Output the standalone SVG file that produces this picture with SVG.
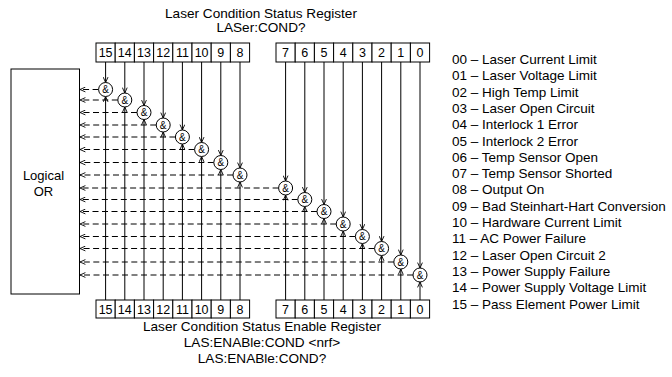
<svg xmlns="http://www.w3.org/2000/svg" width="672" height="377" viewBox="0 0 672 377">
<style>
text{font-family:"Liberation Sans",Arial,sans-serif;fill:#000}
.t{font-size:13.6px;text-anchor:middle}
.o{font-size:13px;text-anchor:middle}
.n{font-size:12.5px;text-anchor:middle}
.lg{font-size:13.5px}
.amp{font-size:10px;text-anchor:middle}
.cell{fill:#fff;stroke:#000;stroke-width:1}
.g{fill:#fff;stroke:#000;stroke-width:1}
.s{stroke:#000;stroke-width:1;fill:none;marker-end:url(#ah)}
.d{stroke:#000;stroke-width:1;fill:none;stroke-dasharray:6 3.5;marker-end:url(#ah)}
</style>
<defs>
<marker id="ah" viewBox="0 0 10 10" refX="10" refY="5" markerWidth="6" markerHeight="6" markerUnits="userSpaceOnUse" orient="auto">
<path d="M1,1 L10,5 L1,9" fill="none" stroke="#000" stroke-width="1.5"/>
</marker>
</defs>
<rect width="672" height="377" fill="#fff"/>

<g id="title-top">
<text class="t" x="261" y="18">Laser Condition Status Register</text>
<text class="t" x="261" y="32">LASer:COND?</text>
</g>

<g id="reg-top">
<rect class="cell" x="96" y="43" width="19.2" height="19"/>
<rect class="cell" x="115.2" y="43" width="19.2" height="19"/>
<rect class="cell" x="134.4" y="43" width="19.2" height="19"/>
<rect class="cell" x="153.6" y="43" width="19.2" height="19"/>
<rect class="cell" x="172.8" y="43" width="19.2" height="19"/>
<rect class="cell" x="192" y="43" width="19.2" height="19"/>
<rect class="cell" x="211.2" y="43" width="19.2" height="19"/>
<rect class="cell" x="230.4" y="43" width="19.2" height="19"/>
<rect class="cell" x="276" y="43" width="19.2" height="19"/>
<rect class="cell" x="295.2" y="43" width="19.2" height="19"/>
<rect class="cell" x="314.4" y="43" width="19.2" height="19"/>
<rect class="cell" x="333.6" y="43" width="19.2" height="19"/>
<rect class="cell" x="352.8" y="43" width="19.2" height="19"/>
<rect class="cell" x="372" y="43" width="19.2" height="19"/>
<rect class="cell" x="391.2" y="43" width="19.2" height="19"/>
<rect class="cell" x="410.4" y="43" width="19.2" height="19"/>
<text class="n" x="105.6" y="57">15</text>
<text class="n" x="124.8" y="57">14</text>
<text class="n" x="144" y="57">13</text>
<text class="n" x="163.2" y="57">12</text>
<text class="n" x="182.4" y="57">11</text>
<text class="n" x="201.6" y="57">10</text>
<text class="n" x="220.8" y="57">9</text>
<text class="n" x="240" y="57">8</text>
<text class="n" x="285.6" y="57">7</text>
<text class="n" x="304.8" y="57">6</text>
<text class="n" x="324" y="57">5</text>
<text class="n" x="343.2" y="57">4</text>
<text class="n" x="362.4" y="57">3</text>
<text class="n" x="381.6" y="57">2</text>
<text class="n" x="400.8" y="57">1</text>
<text class="n" x="420" y="57">0</text>
</g>

<g id="reg-bottom">
<rect class="cell" x="96" y="300" width="19.2" height="18"/>
<rect class="cell" x="115.2" y="300" width="19.2" height="18"/>
<rect class="cell" x="134.4" y="300" width="19.2" height="18"/>
<rect class="cell" x="153.6" y="300" width="19.2" height="18"/>
<rect class="cell" x="172.8" y="300" width="19.2" height="18"/>
<rect class="cell" x="192" y="300" width="19.2" height="18"/>
<rect class="cell" x="211.2" y="300" width="19.2" height="18"/>
<rect class="cell" x="230.4" y="300" width="19.2" height="18"/>
<rect class="cell" x="276" y="300" width="19.2" height="18"/>
<rect class="cell" x="295.2" y="300" width="19.2" height="18"/>
<rect class="cell" x="314.4" y="300" width="19.2" height="18"/>
<rect class="cell" x="333.6" y="300" width="19.2" height="18"/>
<rect class="cell" x="352.8" y="300" width="19.2" height="18"/>
<rect class="cell" x="372" y="300" width="19.2" height="18"/>
<rect class="cell" x="391.2" y="300" width="19.2" height="18"/>
<rect class="cell" x="410.4" y="300" width="19.2" height="18"/>
<text class="n" x="105.6" y="313.5">15</text>
<text class="n" x="124.8" y="313.5">14</text>
<text class="n" x="144" y="313.5">13</text>
<text class="n" x="163.2" y="313.5">12</text>
<text class="n" x="182.4" y="313.5">11</text>
<text class="n" x="201.6" y="313.5">10</text>
<text class="n" x="220.8" y="313.5">9</text>
<text class="n" x="240" y="313.5">8</text>
<text class="n" x="285.6" y="313.5">7</text>
<text class="n" x="304.8" y="313.5">6</text>
<text class="n" x="324" y="313.5">5</text>
<text class="n" x="343.2" y="313.5">4</text>
<text class="n" x="362.4" y="313.5">3</text>
<text class="n" x="381.6" y="313.5">2</text>
<text class="n" x="400.8" y="313.5">1</text>
<text class="n" x="420" y="313.5">0</text>
</g>

<g id="title-bottom">
<text class="t" x="262" y="331">Laser Condition Status Enable Register</text>
<text class="t" x="262" y="347">LAS:ENABle:COND &lt;nrf&gt;</text>
<text class="t" x="262" y="363">LAS:ENABle:COND?</text>
</g>

<g id="logical-or">
<rect x="11" y="69" width="68.5" height="225" fill="#fff" stroke="#000" stroke-width="1"/>
<text class="o" x="43.5" y="180">Logical</text>
<text class="o" x="43.5" y="196">OR</text>
</g>

<g id="connectors">
<line class="s" x1="105.6" y1="62" x2="105.6" y2="82.5"/><line class="s" x1="105.6" y1="300" x2="105.6" y2="96.5"/><line class="d" x1="98.6" y1="89.5" x2="80" y2="89.5"/>
<line class="s" x1="124.8" y1="62" x2="124.8" y2="93"/><line class="s" x1="124.8" y1="300" x2="124.8" y2="107"/><line class="d" x1="117.8" y1="100" x2="80" y2="100"/>
<line class="s" x1="144" y1="62" x2="144" y2="105.5"/><line class="s" x1="144" y1="300" x2="144" y2="119.5"/><line class="d" x1="137" y1="112.5" x2="80" y2="112.5"/>
<line class="s" x1="163.2" y1="62" x2="163.2" y2="118"/><line class="s" x1="163.2" y1="300" x2="163.2" y2="132"/><line class="d" x1="156.2" y1="125" x2="80" y2="125"/>
<line class="s" x1="182.4" y1="62" x2="182.4" y2="130"/><line class="s" x1="182.4" y1="300" x2="182.4" y2="144"/><line class="d" x1="175.4" y1="137" x2="80" y2="137"/>
<line class="s" x1="201.6" y1="62" x2="201.6" y2="142.5"/><line class="s" x1="201.6" y1="300" x2="201.6" y2="156.5"/><line class="d" x1="194.6" y1="149.5" x2="80" y2="149.5"/>
<line class="s" x1="220.8" y1="62" x2="220.8" y2="155.5"/><line class="s" x1="220.8" y1="300" x2="220.8" y2="169.5"/><line class="d" x1="213.8" y1="162.5" x2="80" y2="162.5"/>
<line class="s" x1="240" y1="62" x2="240" y2="168"/><line class="s" x1="240" y1="300" x2="240" y2="182"/><line class="d" x1="233" y1="175" x2="80" y2="175"/>
<line class="s" x1="285.6" y1="62" x2="285.6" y2="181"/><line class="s" x1="285.6" y1="300" x2="285.6" y2="195"/><line class="d" x1="278.6" y1="188" x2="80" y2="188"/>
<line class="s" x1="304.8" y1="62" x2="304.8" y2="192.5"/><line class="s" x1="304.8" y1="300" x2="304.8" y2="206.5"/><line class="d" x1="297.8" y1="199.5" x2="80" y2="199.5"/>
<line class="s" x1="324" y1="62" x2="324" y2="204.5"/><line class="s" x1="324" y1="300" x2="324" y2="218.5"/><line class="d" x1="317" y1="211.5" x2="80" y2="211.5"/>
<line class="s" x1="343.2" y1="62" x2="343.2" y2="217"/><line class="s" x1="343.2" y1="300" x2="343.2" y2="231"/><line class="d" x1="336.2" y1="224" x2="80" y2="224"/>
<line class="s" x1="362.4" y1="62" x2="362.4" y2="229.5"/><line class="s" x1="362.4" y1="300" x2="362.4" y2="243.5"/><line class="d" x1="355.4" y1="236.5" x2="80" y2="236.5"/>
<line class="s" x1="381.6" y1="62" x2="381.6" y2="241.5"/><line class="s" x1="381.6" y1="300" x2="381.6" y2="255.5"/><line class="d" x1="374.6" y1="248.5" x2="80" y2="248.5"/>
<line class="s" x1="400.8" y1="62" x2="400.8" y2="255"/><line class="s" x1="400.8" y1="300" x2="400.8" y2="269"/><line class="d" x1="393.8" y1="262" x2="80" y2="262"/>
<line class="s" x1="420" y1="62" x2="420" y2="268"/><line class="s" x1="420" y1="300" x2="420" y2="282"/><line class="d" x1="413" y1="275" x2="80" y2="275"/>
</g>

<g id="gate-15"><circle class="g" cx="105.6" cy="89.5" r="7"/><text class="amp" x="105.6" y="93">&amp;</text></g>
<g id="gate-14"><circle class="g" cx="124.8" cy="100" r="7"/><text class="amp" x="124.8" y="103.5">&amp;</text></g>
<g id="gate-13"><circle class="g" cx="144" cy="112.5" r="7"/><text class="amp" x="144" y="116">&amp;</text></g>
<g id="gate-12"><circle class="g" cx="163.2" cy="125" r="7"/><text class="amp" x="163.2" y="128.5">&amp;</text></g>
<g id="gate-11"><circle class="g" cx="182.4" cy="137" r="7"/><text class="amp" x="182.4" y="140.5">&amp;</text></g>
<g id="gate-10"><circle class="g" cx="201.6" cy="149.5" r="7"/><text class="amp" x="201.6" y="153">&amp;</text></g>
<g id="gate-9"><circle class="g" cx="220.8" cy="162.5" r="7"/><text class="amp" x="220.8" y="166">&amp;</text></g>
<g id="gate-8"><circle class="g" cx="240" cy="175" r="7"/><text class="amp" x="240" y="178.5">&amp;</text></g>
<g id="gate-7"><circle class="g" cx="285.6" cy="188" r="7"/><text class="amp" x="285.6" y="191.5">&amp;</text></g>
<g id="gate-6"><circle class="g" cx="304.8" cy="199.5" r="7"/><text class="amp" x="304.8" y="203">&amp;</text></g>
<g id="gate-5"><circle class="g" cx="324" cy="211.5" r="7"/><text class="amp" x="324" y="215">&amp;</text></g>
<g id="gate-4"><circle class="g" cx="343.2" cy="224" r="7"/><text class="amp" x="343.2" y="227.5">&amp;</text></g>
<g id="gate-3"><circle class="g" cx="362.4" cy="236.5" r="7"/><text class="amp" x="362.4" y="240">&amp;</text></g>
<g id="gate-2"><circle class="g" cx="381.6" cy="248.5" r="7"/><text class="amp" x="381.6" y="252">&amp;</text></g>
<g id="gate-1"><circle class="g" cx="400.8" cy="262" r="7"/><text class="amp" x="400.8" y="265.5">&amp;</text></g>
<g id="gate-0"><circle class="g" cx="420" cy="275" r="7"/><text class="amp" x="420" y="278.5">&amp;</text></g>

<g id="legend">
<text class="lg" x="452" y="64">00 – Laser Current Limit</text>
<text class="lg" x="452" y="80.3">01 – Laser Voltage Limit</text>
<text class="lg" x="452" y="96.6">02 – High Temp Limit</text>
<text class="lg" x="452" y="112.9">03 – Laser Open Circuit</text>
<text class="lg" x="452" y="129.2">04 – Interlock 1 Error</text>
<text class="lg" x="452" y="145.5">05 – Interlock 2 Error</text>
<text class="lg" x="452" y="161.8">06 – Temp Sensor Open</text>
<text class="lg" x="452" y="178.1">07 – Temp Sensor Shorted</text>
<text class="lg" x="452" y="194.4">08 – Output On</text>
<text class="lg" x="452" y="210.7">09 – Bad Steinhart-Hart Conversion</text>
<text class="lg" x="452" y="227">10 – Hardware Current Limit</text>
<text class="lg" x="452" y="243.3">11 – AC Power Failure</text>
<text class="lg" x="452" y="259.6">12 – Laser Open Circuit 2</text>
<text class="lg" x="452" y="275.9">13 – Power Supply Failure</text>
<text class="lg" x="452" y="292.2">14 – Power Supply Voltage Limit</text>
<text class="lg" x="452" y="308.5">15 – Pass Element Power Limit</text>
</g>
</svg>
